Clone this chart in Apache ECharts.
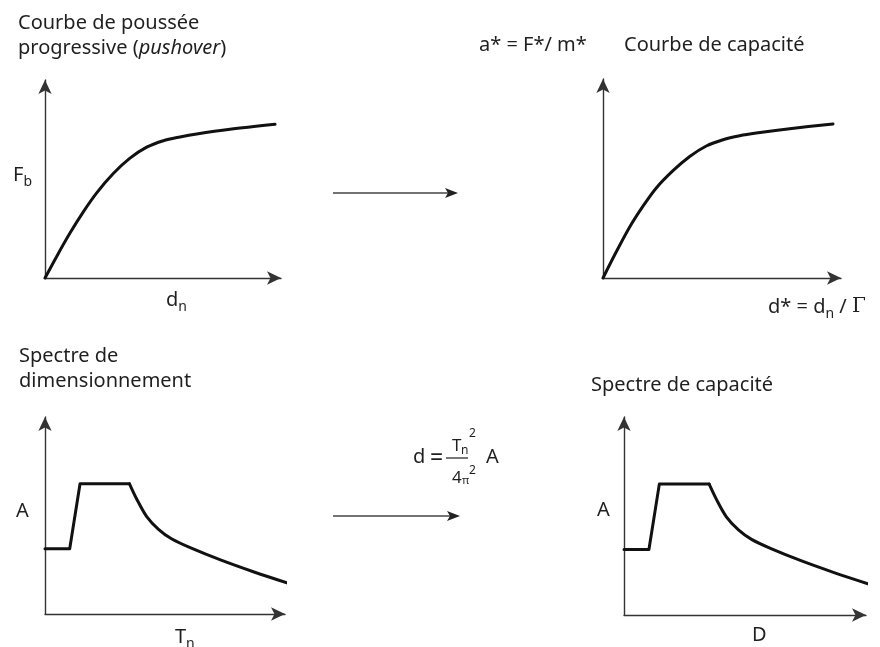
<!DOCTYPE html>
<html><head><meta charset="utf-8">
<script src="https://cdn.jsdelivr.net/npm/echarts@6/dist/echarts.min.js"></script>
<style>html,body{margin:0;padding:0;background:#fff}#c{width:880px;height:647px}</style>
</head><body><div id="c"></div>
<script>
// Normalised curve values (each axis runs 0..100)
const pushoverCurve = [[0,0],[4.96,10.91],[10.59,22.68],[16.23,33.43],[21.91,43.03],[28.94,52.78],[36.02,60.51],[43.09,66.06],[50.13,69.34],[57.2,71.21],[64.28,72.73],[78.39,75.1],[97.46,77.63]];
const capacityCurve = [[0,0],[5.59,13.17],[11.22,25.63],[16.81,36.08],[22.39,45.23],[29.41,53.92],[36.43,61.06],[43.4,66.33],[50.42,69.5],[57.44,71.51],[64.41,72.86],[78.45,75.03],[96.64,77.39]];
const spectrumPlateau = [[0,33.1],[10.3,33.1],[14.6,66.1],[35.2,66.1]];
const spectrumDecay = [[35.2,66.1],[38.2,58.4],[42.3,49.6],[47.3,43],[52.7,38.2],[61,33.4],[73.4,27.3],[87.1,21.3],[100.8,15.8]];

const FONT = 'Noto Sans';
const TXT = '#1f1f1f';
const AX = '#333';
const FS = 20;

const grids = [
  {left:45, top:80, width:236, height:198},
  {left:603, top:79, width:238, height:199},
  {left:45, top:417, width:240, height:197},
  {left:624, top:417, width:242, height:198}
];
function axis(i){
  return {type:'value', gridIndex:i, min:0, max:100,
    axisLine:{show:true, symbol:['none','arrow'], symbolSize:[10,14], lineStyle:{color:AX, width:1.4}},
    axisTick:{show:false}, axisLabel:{show:false}, splitLine:{show:false}};
}
function curve(i, data, smooth){
  return {type:'line', xAxisIndex:i, yAxisIndex:i, data:data, smooth:smooth, showSymbol:false,
    clip:false, silent:true, lineStyle:{color:'#111', width:3, join:'round', cap:'round'}};
}
function t(text, x, y, size, extra){
  return {type:'text', x:x, y:y, silent:true,
    style:Object.assign({text:text, fontSize:size, fontFamily:FONT, fill:TXT, align:'left', verticalAlign:'middle'}, extra||{})};
}
const RICH = {
  m:{fontSize:FS, fontFamily:FONT, fill:TXT, lineHeight:28, verticalAlign:'middle'},
  s:{fontSize:14, fontFamily:FONT, fill:TXT, lineHeight:14, verticalAlign:'bottom'},
  i:{fontSize:FS, fontFamily:FONT, fill:TXT, fontStyle:'italic', lineHeight:28, verticalAlign:'middle'},
  g:{fontSize:FS, fontFamily:'DejaVu Serif', fill:TXT, lineHeight:28, verticalAlign:'middle'}
};
function r(text, x, y){
  return {type:'text', x:x, y:y, silent:true,
    style:{text:text, fontSize:FS, fontFamily:FONT, fill:TXT, align:'left', verticalAlign:'middle', rich:RICH}};
}
function arrow(x1, x2, y){
  return [
    {type:'line', shape:{x1:x1, y1:y, x2:x2-8, y2:y}, style:{stroke:'#444', lineWidth:1.5}, silent:true},
    {type:'polygon', shape:{points:[[x2,y],[x2-13,y-5],[x2-10,y],[x2-13,y+5]]}, style:{fill:'#222'}, silent:true}
  ];
}

const graphics = [
  t('Courbe de poussée', 18, 23, FS),
  r('{m|progressive (}{i|pushover}{m|)}', 18, 48),
  r('{m|F}{s|b}', 13, 175),
  r('{m|d}{s|n}', 166, 300),
  t('a* = F*/ m*', 479, 45, FS),
  t('Courbe de capacité', 624, 45, FS),
  r('{m|d* = d}{s|n}{m| / }{g|Γ}', 768, 307),
  t('Spectre de', 19, 356, FS),
  t('dimensionnement', 19, 381, FS),
  t('A', 16, 511, FS),
  r('{m|T}{s|n}', 175, 637),
  t('Spectre de capacité', 591, 385, FS),
  t('A', 597, 510, FS),
  t('D', 752, 635, FS),
  // formula d = Tn^2 / (4 pi^2) A
  t('d', 413, 457, FS), t('=', 430, 458, 23),
  {type:'line', shape:{x1:446, y1:458, x2:468, y2:458}, style:{stroke:TXT, lineWidth:1.2}, silent:true},
  t('T', 452, 446, 17), t('n', 461, 451, 12), t('2', 469, 434, 12),
  t('4', 452, 478, 17), t('π', 462, 481, 11), t('2', 469, 471, 12),
  t('A', 486, 457, FS)
].concat(arrow(333, 458, 193), arrow(333, 460, 516));

const chart = echarts.init(document.getElementById('c'), null, {renderer:'canvas'});
chart.setOption({
  animation:false,
  backgroundColor:'#fff',
  grid:grids,
  xAxis:[0,1,2,3].map(axis),
  yAxis:[0,1,2,3].map(axis),
  series:[
    curve(0, pushoverCurve, 0.3),
    curve(1, capacityCurve, 0.3),
    curve(2, spectrumPlateau, false),
    curve(2, spectrumDecay, 0.3),
    curve(3, spectrumPlateau, false),
    curve(3, spectrumDecay, 0.3)
  ],
  graphic:graphics
});
</script></body></html>
